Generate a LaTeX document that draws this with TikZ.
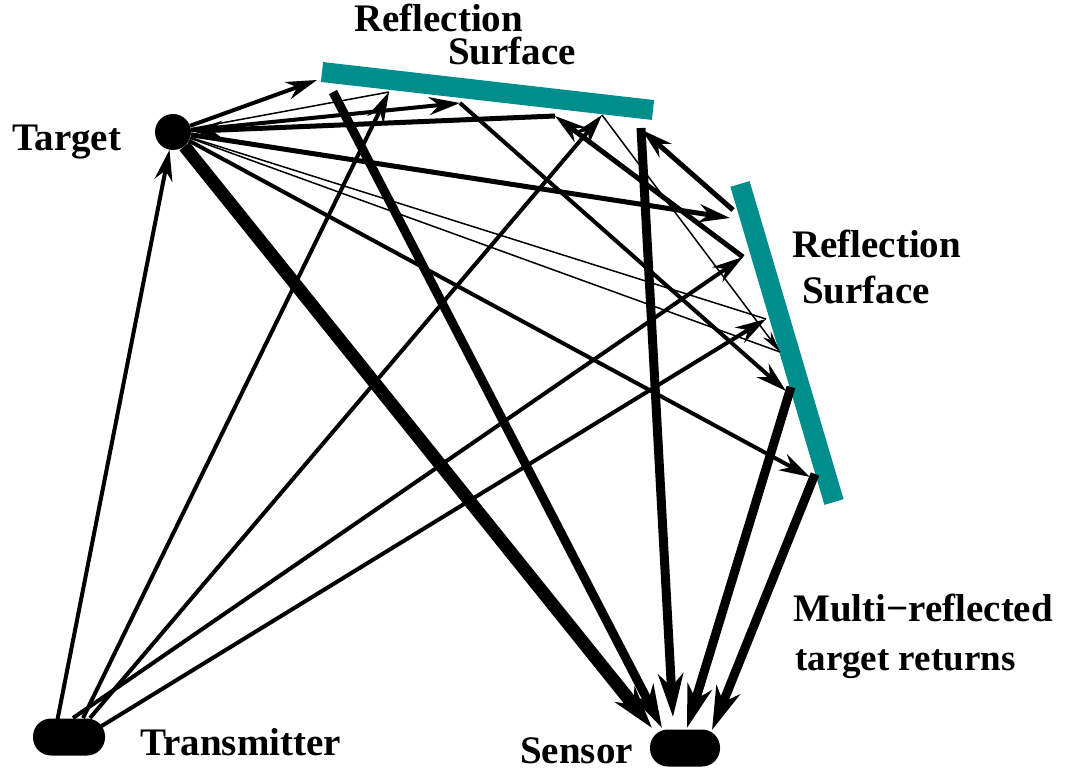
\documentclass[tikz,border=0pt]{standalone}
\usepackage{fontspec}
\setmainfont{Liberation Serif}
\usetikzlibrary{arrows.meta}
\definecolor{surfteal}{RGB}{0,142,140}
\begin{document}
\begin{tikzpicture}[x=1pt,y=-1pt,
  lbl/.style={anchor=base west, inner sep=0pt, font=\fontsize{39}{44}\selectfont\bfseries},
  surf/.style={line width=20pt, draw=surfteal},
  ray/.style={line width=4pt},
  thinray/.style={line width=1.5pt},
  medray/.style={line width=5pt},
  thickray/.style={line width=9pt},
  vthickray/.style={line width=13pt},
  hd/.style={-{Stealth[length=31pt,width=18pt,inset=10pt]}},
  smallhd/.style={-{Stealth[length=22pt,width=10pt,inset=7pt]}},
  bighd/.style={-{Stealth[length=43pt,width=25pt,inset=13pt]}},
  dev/.style={rectangle, fill=black, rounded corners=18pt, minimum width=72pt, minimum height=37pt, inner sep=0pt}
]
\useasboundingbox (0,0) rectangle (1073,776);

% reflection surfaces
\coordinate (ts1) at (322,72);
\coordinate (ts2) at (653,110);
\coordinate (rs1) at (740,184);
\coordinate (rs2) at (834,502);
\draw[surf] (ts1) -- (ts2);
\draw[surf] (rs1) -- (rs2);

% devices
\node[circle, fill=black, minimum size=36pt, inner sep=0pt] (target) at (173,132) {};
\node[dev] (tx) at (69,737) {};
\node[dev, minimum width=70pt] (sensor) at (685,748) {};

% points on transmitter
\coordinate (tx1) at (57,722);
\coordinate (tx2) at (83,718);
\coordinate (tx3) at (90,718);
\coordinate (tx4) at (73,718);
\coordinate (tx5) at (100,727);

% points on top surface
\coordinate (T1) at (317,80);
\coordinate (T1b) at (333,92);
\coordinate (T2) at (389,92);
\coordinate (T3) at (460,103);
\coordinate (T4) at (555,116);
\coordinate (T5) at (602,115);
\coordinate (T6) at (642,130);
\coordinate (T6b) at (641,128);

% points on right surface
\coordinate (R1) at (730,218);
\coordinate (R1b) at (733,210);
\coordinate (R2) at (743,257);
\coordinate (R3) at (766,319);
\coordinate (R4) at (780,352);
\coordinate (R5) at (786,391);
\coordinate (R5b) at (791,387);
\coordinate (R6) at (810,477);
\coordinate (R6b) at (815,474);

% points at sensor
\coordinate (s1) at (652,728);
\coordinate (s2) at (662,728);
\coordinate (s3) at (673,717);
\coordinate (s4) at (687,728);
\coordinate (s5) at (712,730);

% transmitter rays
\draw[ray, hd] (tx1) -- (target);
\draw[ray, hd] (tx2) -- (T2);
\draw[ray, hd] (tx3) -- (T5);
\draw[ray, hd] (tx4) -- (R2);
\draw[ray, hd] (tx5) -- (R3);

% target rays
\draw[ray, hd] (target) -- (T1);
\draw[thinray] (target) -- (T2);
\draw[ray, hd] (target) -- (T3);
\draw[medray, hd] (T4) -- (target);
\draw[medray, hd] (target) -- (R1);
\draw[thinray] (target) -- (R3);
\draw[thinray] (target) -- (R4);
\draw[ray, hd] (target) -- (R6);
\draw[vthickray, bighd] (target) -- (s1);

% multi reflections
\draw[ray, hd] (T3) -- (R5);
\draw[medray, hd] (R2) -- (T4);
\draw[thinray, smallhd] (T5) -- (R4);
\draw[medray, hd] (R1b) -- (T6);

% returns to sensor
\draw[thickray, bighd] (T1b) -- (s2);
\draw[thickray, bighd] (T6b) -- (s3);
\draw[thickray, bighd] (R5b) -- (s4);
\draw[thickray, bighd] (R6b) -- (s5);

% labels
\node[lbl] (l1) at (354,32) {Reflection};
\node[lbl] (l2) at (448,65) {Surface};
\node[lbl] (l3) at (12,150) {Target};
\node[lbl] (l4) at (792,257) {Reflection};
\node[lbl] (l5) at (802,303) {Surface};
\node[lbl] (l6) at (793,621) {Multi−reflected};
\node[lbl, font=\fontsize{37}{42}\selectfont\bfseries] (l7) at (795,670) {target returns};
\node[lbl] (l8) at (140,755) {Transmitter};
\node[lbl] (l9) at (520,763) {Sensor};
\end{tikzpicture}
\end{document}
